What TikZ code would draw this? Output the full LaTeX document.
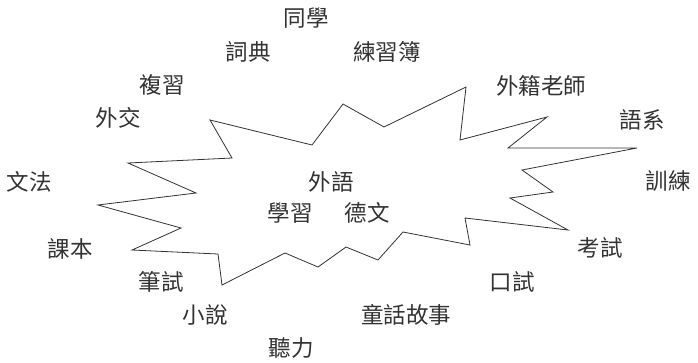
\documentclass[tikz,border=0pt]{standalone}
\usepackage{fontspec}
\newfontfamily\cjk{Noto Sans CJK TC}
\begin{document}
\begin{tikzpicture}[x=1pt,y=-1pt,
  word/.style={font=\cjk\fontsize{22.5}{24}\selectfont, text=black!80, inner sep=0pt, anchor=center},
  burst/.style={draw=black!80, line width=0.8pt, line join=miter}]
\useasboundingbox[fill=white] (0,0) rectangle (698,362);
\draw[burst] (128,163) -- (232,158) -- (210,120) -- (312,145) -- (343,104) -- (384,127)
  -- (466,87) -- (460,140) -- (547,117) -- (508,148) -- (637,148) -- (522,170)
  -- (553,192) -- (510,198) -- (568,230) -- (465,218) -- (470,245) -- (403,232)
  -- (378,260) -- (346,247) -- (318,267) -- (285,253) -- (222,285) -- (218,254)
  -- (132,250) -- (181,228) -- (98,205) -- (196,193) -- cycle;
\node[word] (tongxue) at (306,18) {同學};
\node[word] (cidian) at (248,52) {詞典};
\node[word] (lianxibu) at (387,52) {練習簿};
\node[word] (fuxi) at (162,85) {複習};
\node[word] (waiji) at (541,86) {外籍老師};
\node[word] (waijiao) at (118,118) {外交};
\node[word] (yuxi) at (642,120) {語系};
\node[word] (wenfa) at (29,182) {文法};
\node[word] (waiyu) at (331,182) {外語};
\node[word] (xunlian) at (668,181) {訓練};
\node[word] (xuexi) at (290,213) {學習};
\node[word] (dewen) at (367,213) {德文};
\node[word] (keben) at (70,249) {課本};
\node[word] (kaoshi) at (600,248) {考試};
\node[word] (bishi) at (161,282) {筆試};
\node[word] (koushi) at (512,282) {口試};
\node[word] (xiaoshuo) at (205,315) {小說};
\node[word] (tonghua) at (406,315) {童話故事};
\node[word] (tingli) at (291,348) {聽力};
\end{tikzpicture}
\end{document}
